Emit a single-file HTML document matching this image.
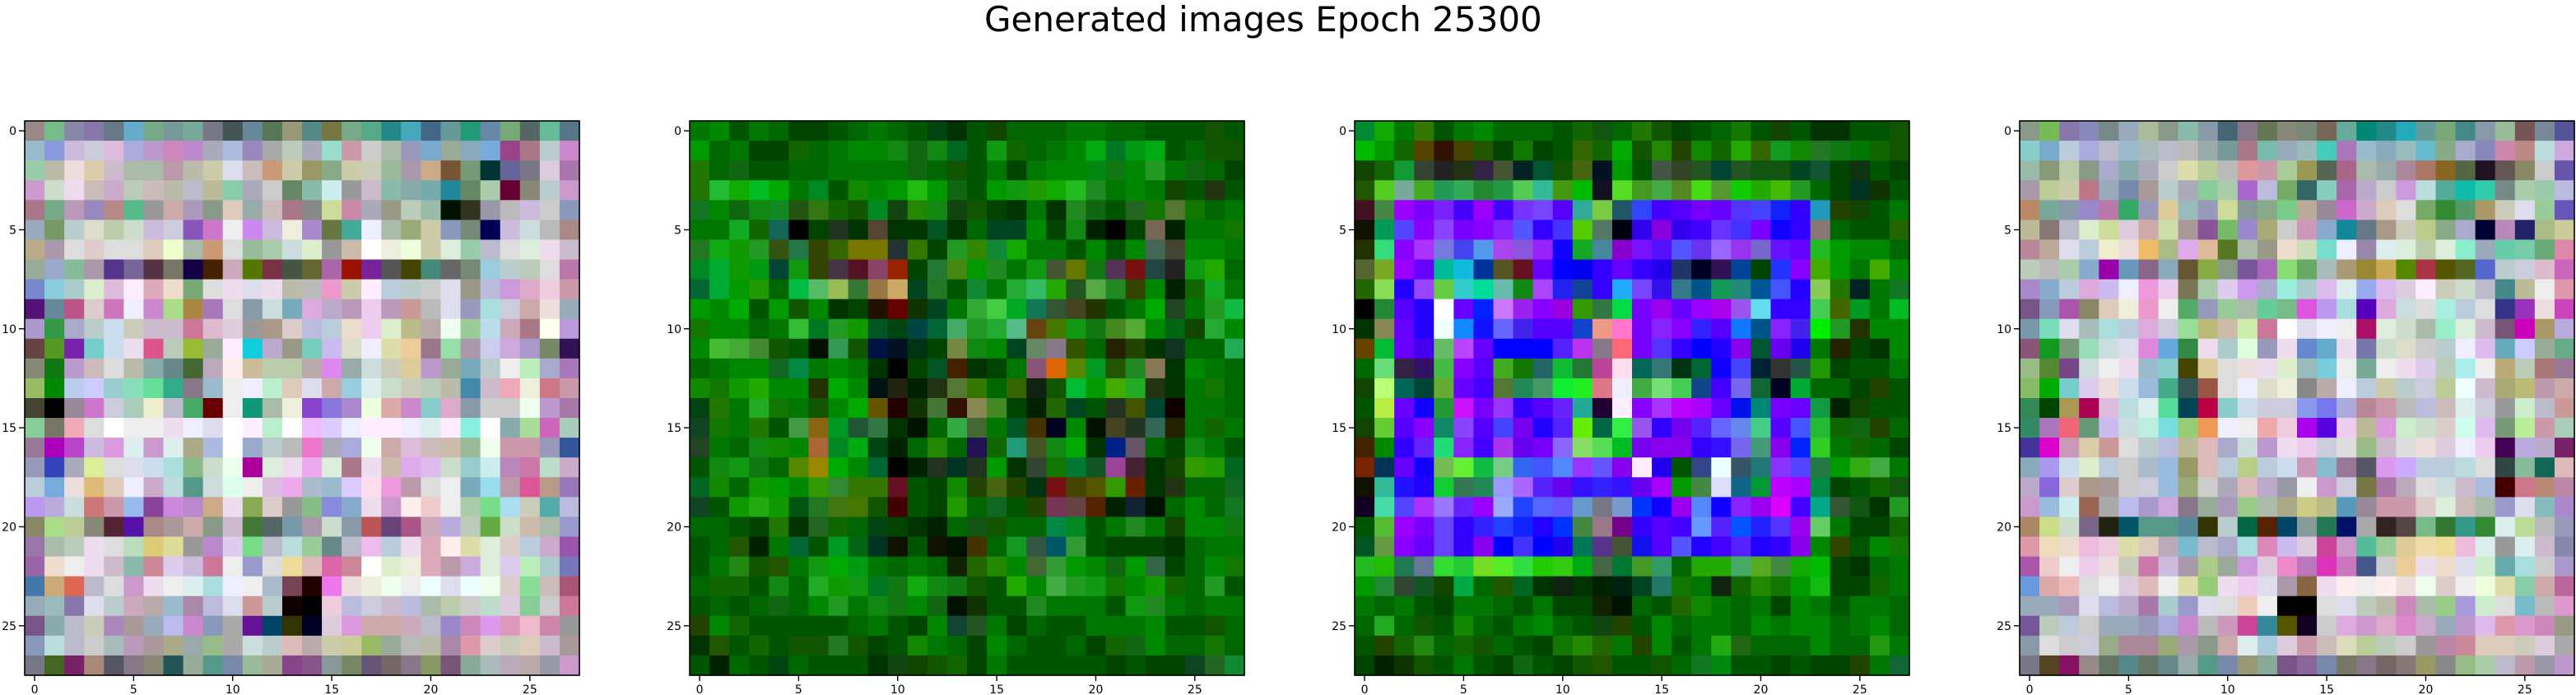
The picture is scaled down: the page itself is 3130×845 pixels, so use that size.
<!DOCTYPE html>
<html><head><meta charset="utf-8"><style>
html,body{margin:0;padding:0;background:#fff;width:3130px;height:845px;overflow:hidden}
svg text{font-family:"DejaVu Sans","Liberation Sans",sans-serif}
</style></head><body>
<svg id="fig" width="3130" height="845" viewBox="0 0 3130 845" xmlns="http://www.w3.org/2000/svg">
<text x="1196" y="38" font-size="42" fill="#000">Generated images Epoch 25300</text>
</svg>
<script>
const ticks=[0,5,10,15,20,25];
const tickLabels=["0","5","10","15","20","25"];
const panelNames=["image-1","image-2","image-3","image-4"];
const img1=[
"988 7b8 88a 87a 678 6ac 7a8 799 7a9 778 455 689 575 997 588 774 7a8 5a8 288 4ab 468 699 297 68a 7a7 566 6b9 578",
"9bc 89d cbd ccd dbd aad b9c c8b b8c aab abd 98b aaa bcb aab 9dc c9a ccc aba 99b 7ac 9a9 8ab 7ad 948 a78 bcc c8c",
"9ca bba edd dca cbc aba aba b9a bba cca dde cbb c97 cca 996 8a8 cca ccb 9b9 a9a ca8 753 797 033 669 778 dcd a7a",
"c9c cdc ede cbb cac bcb cbb bba bbc bb9 8ca aab ccc 686 8ba cee 999 cbc 8ba 8aa 7aa 289 686 aca 603 887 bcc c9c",
"a78 7a8 b9b 98b b88 5b8 999 caa a9b 898 dcb 9aa cbb a78 888 cd9 c8a aab 998 bcb 9ba 010 332 99a bbb cbd ccc 89b",
"9ab 796 bcc ddc bca cdc cbd ccd 85b c7c eee c8e cbd eed a8c 674 4a9 eef aba 9a7 cca 89b 787 005 cbd cdd bbb a88",
"ba8 a9a ddd dcc ddd ddd dcb efc aba c97 ddd 9b9 aca cdd dec 999 cba fff eed efd cca ded 9ca bbc ddd ded ede cbc",
"9a9 9ac 8b9 a9a 538 769 534 776 104 420 cab 570 734 454 663 a6a 910 729 555 440 487 666 787 9cd bcc bcb ddd b7a",
"78c 8cd acc dec dbd fef dab edc 7a7 ddd ede dde ede bba bbb e9c cca fef bcd bcc ccc dde 998 bbd c9d dac ecd c9a",
"517 689 b58 dcc c7b eef c8c ad8 a84 a7b ddd 89a cdd 7ab dad bac b9b ece b9b c99 bbb dde 99b add ccd caa edd 9ab",
"a9c 394 aac bcc cde ccb cbc cbc c79 dbc dcd 999 a98 dcc bbd bcd edc ece dec bb8 baa efe 9c9 bde cab a78 ffe b9d",
"644 592 72a 7cc cde ede d58 bcb 9b3 9a9 fef 1cd bac 998 7cb cbe ddc eef dda ec9 978 9da a9a cce cad a9c 786 315",
"887 171 b9c cbb ddd bba 8aa 688 463 bab fee cb9 bca bca baa d8e 9aa cdd ccb dc9 b9c 9a9 7ab bcc eee beb aac a7b",
"9b6 080 bce ccf 9cc 8db 6d9 3a8 878 9bc eee eef bec dcb dde caa 9cd dee cdc ccb bcb bba 48a cbc eab eed c78 c9a",
"443 000 989 c7c ccd acb eec bbc 4a6 600 eee 197 aba eed 84c 87d a8c efd daa c8c 8cc dac 89a ccc ccc efe b9c a7a",
"8c9 776 eab ddd fff eee eee ede eef dde fff fef bec fff ebf dcf eef fef fef eef dee fef 8ed fff 8aa ad9 c6b acb",
"979 a0b b4c cbd d9d dee c9c dee aa8 abd fff 9ac bcc bbb e7c aab aad efe caa dbd cbb cba 9b9 efe c9a c9a 99b 359",
"99b 34b aab de9 ddd dde cde add 8b8 cdc efe a09 ded ede eae ded a78 ede cba dae dbe cdc 9cc cee b8b c7a bdc cac",
"bcd 7ad edd db7 dcb eef cac bdd 598 cdd dfe eee dbd eae abc 9bc dcf fde e9d b9a ddd eee 7ab 9de b9a d59 b98 97b",
"b9e bad cdd c77 c9a 9be 849 c8d b8c ca8 ede 8a5 dcc 999 8b8 88d 8ac ede c9c fee ecc eee aca 7d8 ade ccb 5aa bbd",
"886 ad8 bc9 887 523 51a a88 a99 caa 898 cbc 473 566 79a a9a cdc 89a b55 647 a58 cab bad bcb 6a4 cdc cba aba 99c",
"97a aba bcb ede ddd bdb dc7 dd9 999 b8c dce 7d8 bbc bdd 9c9 688 bbc ebe bcd ede dab fee dda ded dcc bcd cac 95a",
"96a edc eee ede cbc 8ba c89 dce cbd c79 eee 99c ddd ed9 dbb d6a c89 fff dec eed dab b9a cad ded dce beb acc 77b",
"47a ca7 d65 bbc ddd c9c ede eee dee add eef eee abc 745 200 e7e edd eed efe eee eff dde eff efe dcc 8d9 cbb a57",
"9ab 9bb 87a dde bcc cab baa 9bc a8a bbd dde c99 bcc 100 000 ecd bbd ccd cbc bbd aba bca ccc bdc dcd 8c9 ccc c79",
"758 8aa bbc ccb a8b a99 9ab bbe c8c 89b aaa 619 046 330 002 dcd d9d caa caa cab bbc 98c c8b d9e d9b ebc c8a 999",
"89b bdd bbc ccc abb b9b a99 aa8 9aa 9b8 aaa cdd bcc dbb baa cca cc9 9b6 9a9 bbb bba a8a d9a dcc ccb dcb cbc a99",
"778 462 726 a87 556 878 887 255 9a9 598 78a 9b9 aa9 848 858 899 786 657 766 878 896 757 8a9 abb bab baa 99a c9c"];
const img2=[
"070 080 050 070 060 040 040 050 060 070 060 050 041 030 050 140 060 060 060 070 070 060 060 050 050 050 150 050",
"090 060 070 040 040 160 060 070 080 080 181 161 181 062 050 191 160 060 070 080 0a1 072 091 0a1 050 060 150 150",
"270 060 161 050 050 060 060 070 070 070 070 161 060 150 050 070 040 070 080 080 081 171 080 292 070 161 060 040",
"270 2b3 1a0 0b2 0a0 070 082 050 180 080 090 2b1 090 161 050 090 191 290 1a0 2b2 282 070 080 070 140 050 231 050",
"172 080 161 181 182 251 371 160 150 082 141 280 181 141 150 040 030 070 030 282 161 050 262 170 573 170 060 070",
"070 070 1a2 160 165 000 040 232 030 543 030 030 052 030 060 042 042 080 040 181 020 000 040 765 020 070 070 170",
"272 1a1 190 292 351 274 340 360 770 770 233 370 040 292 380 183 1a0 070 070 050 080 050 080 465 443 080 080 070",
"082 0a3 190 091 043 191 340 434 512 846 920 040 273 481 090 282 070 191 453 670 171 535 711 244 222 191 2a0 060",
"063 0a3 090 290 060 0b4 5b6 9b5 373 974 ca6 042 272 050 183 070 2a3 3b6 2a0 252 5a4 282 340 080 020 160 1a2 070",
"090 080 0a0 050 090 150 080 030 040 210 600 130 042 070 3a3 4c4 0a2 175 353 442 230 050 070 0a0 242 070 292 1b4",
"170 080 080 060 070 3b3 072 292 190 052 041 044 063 4a6 292 2a3 5b8 641 470 191 171 482 5a3 080 061 140 2a3 080",
"080 4b3 4a3 483 150 050 010 395 150 014 012 031 040 784 181 080 042 686 878 350 060 220 240 030 132 060 060 2a5",
"060 070 080 080 162 084 070 080 070 030 000 040 052 420 030 040 070 857 d60 580 092 250 282 875 030 080 070 060",
"180 170 190 2a0 080 080 230 0a0 080 011 221 020 231 573 370 060 360 121 150 0b3 090 4a0 2a2 231 030 070 170 060",
"041 270 070 2a2 170 070 150 080 0a0 650 200 130 473 310 885 482 040 020 260 042 050 232 450 043 100 070 070 060",
"142 170 070 270 050 494 861 092 253 374 030 010 060 3a4 463 070 052 430 002 080 010 442 232 365 220 070 160 070",
"242 070 060 181 180 080 a63 082 0a1 041 020 060 280 060 215 160 297 452 181 0a0 030 028 656 060 040 181 070 050",
"050 181 191 171 060 580 980 0a0 080 063 000 020 232 032 232 090 030 343 170 073 152 949 423 030 140 390 290 062",
"062 180 060 190 090 080 390 383 370 370 612 050 040 180 240 461 240 031 711 440 550 390 620 030 231 060 060 162",
"142 050 190 2a1 190 051 272 471 470 150 400 050 040 290 060 162 050 240 735 644 520 020 123 010 060 080 060 172",
"060 060 050 040 270 030 262 160 060 041 040 030 020 060 151 150 060 060 084 082 050 070 282 070 140 080 080 171",
"050 060 250 020 070 063 050 092 061 032 110 050 110 010 430 060 192 354 056 393 050 040 040 040 030 060 070 070",
"050 070 281 150 250 070 191 0a0 091 070 060 070 060 120 260 280 080 463 393 090 080 161 090 364 040 060 080 170",
"060 160 160 050 181 060 2a2 190 191 072 171 1a1 181 171 150 050 2a0 080 4a4 292 191 170 080 190 160 060 292 050",
"050 060 050 060 161 060 080 292 070 181 171 080 161 010 130 050 050 282 070 070 070 050 191 282 070 060 070 070",
"240 080 160 050 050 050 050 050 060 070 050 040 080 143 252 070 040 060 050 050 070 070 070 080 050 050 150 060",
"030 250 050 160 050 150 150 272 150 040 050 180 070 060 040 080 060 050 050 060 040 160 161 080 060 060 170 060",
"050 020 060 050 041 060 050 050 050 030 141 140 150 160 040 070 050 050 050 050 050 040 050 040 040 142 262 183"];
const img3=[
"083 1a0 070 370 050 070 080 060 060 060 050 160 151 060 270 150 040 050 060 170 050 140 050 030 030 050 050 150",
"0b0 090 160 540 310 440 250 040 170 040 050 360 160 0a0 150 280 240 180 160 2a0 360 192 180 272 171 070 160 150",
"140 160 193 343 222 231 324 453 022 053 150 461 012 090 050 454 342 252 043 252 151 151 042 153 040 131 050 040",
"250 5c2 7a9 4a2 295 3a5 283 294 5c5 3b9 491 0b0 112 5d2 492 4a4 582 4d1 593 1c0 2a0 4b0 292 060 040 032 130 050",
"412 484 90f 70f 72f 40f 90f 40f 73f 74f 50f 3a9 7c4 256 34f 40f 50f 70f 60f 53f 44f 12f 30f 29b 240 140 050 070",
"110 095 54f 80f 84f 70f 80f 82f 55f 30f 43f 5c0 576 001 30e 80d 30e 40f 63f 43f 70f 10f 30f 877 060 050 050 260",
"230 3d7 80f a3f 77d 44e 59e a4e 85d 92f 10f 1a2 489 80c 71f 51f 55f 63e 96f 93e 76c 61f 60f 2b2 090 080 080 060",
"563 7a2 90f 60f 0b9 1bd 039 552 612 60f 00f 00e 30f 60f 30f 20e 236 002 315 049 040 23f 80f 4a0 090 070 4a0 080",
"260 8d5 20f 94f 6c4 3cc 0d9 6ba 181 a4f 22e 149 30f 2af 74f 31e 378 058 195 287 059 45f 20f 8c5 270 022 070 172",
"000 283 50f 20f fff 60f 02f c7f 92e 80f 90d 390 374 0d4 70f 90e 60f 90f a0e 95e 6de 30f 30f 4c5 460 092 070 0b2",
"030 885 60f 20f eff 18f 11f 66f 42e 50f 50f 14c e98 f7c 70f 82f 80f 32f 50f 17f 058 82f 42e 0e0 292 230 080 080",
"640 0b3 60f 40e 6b6 b4f 60f 00f 00f 00f 52f b3e 878 f67 70f 53f 30f 00f 20f 80e 053 60e 20e 070 220 040 030 080",
"060 6d7 324 316 4b4 80f 50f 4a2 170 266 1b3 273 b49 fde 065 377 031 063 10f 44f 023 333 254 290 040 050 050 070",
"140 bf7 065 043 6a3 60f 40f 573 285 496 1e3 2e2 d78 eef 4a4 7d7 4c5 148 40f 76e 163 002 0a3 060 060 040 240 050",
"050 be4 60f 10f 293 c1f 70f 93f 30f 50f 62f 2a9 203 fef 80f a3f b0f a0f 60f 01e 087 70f 60f 194 020 140 050 050",
"140 6c3 50f 80f 186 84f 50f 44f 70e 20f 52f 6e0 064 3e4 95e 30f 70e 52f 66f 68e 4c8 50f 45f 2b3 160 161 240 060",
"420 080 30f 62f 2d7 82f 40f a3e 60e 70f 86f 8d6 5d5 0b2 70e 80e 80e 30f 31f 76e 497 80e 02f 3c2 070 160 060 040",
"720 035 60f 10f 7b5 6e3 1b4 7c8 36e 45f 58f 93f 65f 80e fef 20e 050 348 eff 356 277 83f 54f 274 090 3a1 4a4 070",
"110 3b9 21f 20f 1c3 375 285 99f a6f 52f 60e 31f 32f 31f 60e a0f 090 484 ddf 168 093 b0f a0f 084 040 050 160 151",
"102 4da 54f a3f 97f 62f 90f 9af 24f 56f 65f 69c 778 79c 03f 10f 90e 58f 10f 82f 90e d0f 40f 0a8 353 151 030 292",
"050 5b3 90f 70f 64f 30f 32f 24f 12f 20f 03f 484 978 708 30f 50f 40f 69f 52f 05f 22f 53f 90e 6c6 070 040 040 160",
"052 694 80f 60f 64f 30f 80e 00f 43f 00f 20e 075 538 453 11e 50f 55f 20f 40f 52f 20f 30f 80e 080 340 050 080 170",
"2b2 2b0 275 679 3d3 2c3 7d2 5e2 3d4 2c0 3c1 0a1 464 073 492 396 060 2a0 2a0 4a6 5a2 484 1a0 0b0 040 030 060 070",
"090 283 343 152 140 0a4 060 250 062 030 121 030 020 021 042 276 170 070 121 160 280 170 090 1b1 040 040 160 070",
"070 060 070 050 040 070 070 060 050 070 040 040 120 010 060 050 260 180 070 060 070 040 080 070 050 070 070 060",
"060 2a2 060 150 050 180 060 050 070 080 060 050 141 240 050 080 060 070 070 060 080 070 080 080 060 070 080 060",
"050 240 160 281 060 160 150 060 050 040 170 280 260 070 240 080 050 070 2a1 261 060 060 060 080 060 060 291 070",
"040 020 130 150 050 070 050 040 161 050 040 150 250 050 050 150 060 172 081 050 050 040 050 040 040 240 070 163"];
const img4=[
"898 7b5 87a 88b 788 9ab ab9 898 8ba 89a 467 878 675 887 787 765 6a9 087 288 2ab 699 7a7 488 89a 9b9 755 789 559",
"8cc 7ac bcd aad bbc 9bc abb bbc bbb 9aa 799 a78 7ba 9ab 9bb 4cb a7b 9bc 8ab 9bb 6bc 8a8 aac 88b c8a b88 bdd cad",
"9ba 897 bca 898 aac 8aa aab ccc dda bc9 bbb d99 c9a ac9 995 565 a68 aba 9aa a89 a76 862 564 212 655 886 ccc 65a",
"a9a bc9 cca b78 9ab 78a a99 bcc aab 8c9 aca a6c bbd 7a6 366 8cb a6a bac ccc c9d bdd 5a9 1ba 3ca 788 aca 9ca bbd",
"b86 7a9 89a 98c b7a 3a6 99b dc9 9bb 99b cd9 899 8a8 7c8 ba9 989 c6c cac dcb ddd 7a6 383 596 a96 ccb dde 9c9 65b",
"bb9 877 bbc dec cd9 dcd caa cda a99 859 7b6 98c aa7 ccc c9b 8ac 189 678 a98 ccb bc8 8a8 aac 003 b8b 226 ab8 cc9",
"b89 ba9 dde bcd eec edd eb6 ab8 dae db9 572 aba 998 edc cdb 7dc eef 98a dee ded bca ded 8ec 9ab 6ca 7ca 6a7 d8a",
"bcb bbb aca 8ac 90a 69b 868 8ab 653 8a4 898 759 a6b 8d7 6a6 abb a97 983 ca5 580 a34 550 562 56c bcc ccd dbc c6b",
"a8c 8ac bcd dad cbe eef e9d ece 775 aca dce c9e aac 9ed acc dbe dee 9ae dbe dcd fef ccb cdc bbc 488 bb9 eee d9a",
"758 89b a5a 886 dcb eed e9c eee 5a6 99b 9c9 aba 6c9 7b8 d5d b9e add 50b dad cdd ddd aed bcd ddd 338 93b edd c4b",
"79a 7db dde abb add bcd dad ccd 9d9 bb7 cba cea c79 fff dde eef eee a16 ded cdc aba 9ec ded cbc 757 c0b a96 bad",
"857 192 797 9db cdd dde d8d 6ad 384 ede acc dfd 99b ede 68c 6ac ede 77a cdc ddc ccc bcc eef dbe 6ab ccf 9a9 6a8",
"9b8 583 748 cdd eee ede 9bc 8cc 440 dc9 ddd edd ede dec 9bb 7cd eee 7a9 eee ede dce bcb aee eee ba7 bcb a77 979",
"8b6 0a0 7cc dce edd cde 9bd 4a8 355 954 ddd eef ddc eed 888 baa eef bcd cca bcc ccd bc9 eff cbc aa7 bb7 b9a caa",
"385 040 a95 a05 dbd bdd dee 5d9 045 b04 8cc cde ccd ccd 89e 77e aad b89 c9a bbb bbd cbb dee ccd 999 cec bbc c99",
"386 a7b e67 697 cbe cdd bed 7dd 9c7 e95 eef eee eaa ecd a0e 50d ece bb9 d9d cec cdc dcc cfe dbe 797 be9 c9a acb",
"439 d0c c9b dca c99 ddd bcc bbd bb9 dbb aac cdd b9c ede ece ccd ddd 9b8 cbc ddd edd dcd eef ece 405 bad bac 726",
"8ab a9e cde dec bcd ccc abc 9bd 996 dbb bcd bc8 bcd cde c9b 8bc 979 556 d9e caf bcd bcd bdd ddd 344 8b9 165 dbb",
"bac 86d dcc a98 a99 ccc ccd 9bd 9a7 ccc aab dbb bac 99a eee c9c ccd 774 a7a bab ddd cdd cbc abd 400 c78 b87 b8a",
"c9c 9bd cee 965 aaa bbe a9c cad 878 9a9 a9b 9c8 aba aa8 cc8 bb8 59b 989 c9a c9a dcc ded cbb aba 99c dde 8bb a8c",
"a86 cd8 cdc 768 221 056 598 598 589 330 bcc 064 520 046 899 275 016 aaa 322 544 7b8 373 398 383 dee bd9 bbb 99b",
"d9a edb edc ebd ecd dda dcb bab 7bc bbc aac add d8b cbe dcd c49 c9c 5b9 9c9 dc9 eda ed9 ebd dee 999 dee cbc 88a",
"a5a ecc eee ece edd ccb c7a cbd a9a ac8 9a9 c9d dcd e8c b7b d3b c7b 458 ccc ec9 ede edc dde cec 6aa add ccc a9c",
"69d daa ebb ddd eee dcd dbb eee dda 9c7 ede ece dde a9a 864 ede fee eee fee edd efe dcc eee efd dda 8ca caa b69",
"9ab 9ab a9b dde bbd bac a7a acc 99c dde ddd ecb eee 000 000 ddd dde bcb bba c8b aba 9c8 a9d cec ddd 7bc bbb d9c",
"759 bcb bcd ccc 9ab 9ab 99b aad c8c bbb c9b c49 389 550 102 ccc dad c9c dac d8c cac 9ab b9c dbe d9a d9c c8b 998",
"89a ddd ccc ccd 9a8 a89 a89 9a7 a9a 898 caa dee acd dcd c9a cbb ddb bc9 bcb ccc 999 b8a c89 dcb dcb ccb dcd aaa",
"778 542 816 988 676 588 676 688 9aa 598 78a 997 8a9 758 869 78a 776 878 766 877 996 888 9b8 aca bbc b9a 99a b9c"];
const images=[img1,img2,img3,img4];

const NS="http://www.w3.org/2000/svg";
const svg=document.getElementById('fig');
const panelX=[30,838,1646,2454], top0=147, size=674, N=28, cell=size/N;
function mk(t,a){const e=document.createElementNS(NS,t);for(const k in a)e.setAttribute(k,a[k]);return e;}
function xs(i,p){return panelX[p]+(i+0.5)*cell;}
function ys(j){return top0+(j+0.5)*cell;}
images.forEach((img,p)=>{
  const g=mk('g',{});
  
  
  img.forEach((row,j)=>{
    row.split(' ').forEach((c,i)=>{
      const r=mk('rect',{x:(xs(i,p)-cell/2).toFixed(2),y:(ys(j)-cell/2).toFixed(2),width:(cell+0.6).toFixed(2),height:(cell+0.6).toFixed(2),fill:'#'+c});
      
      
      g.appendChild(r);
    });
  });
  const fr=mk('rect',{x:panelX[p],y:top0,width:size,height:size,fill:'none',stroke:'#000','stroke-width':1.6});
  
  
  g.appendChild(fr);
  ticks.forEach((t,k)=>{
    const x=xs(t,p), y=ys(t);
    const tx=mk('line',{x1:x,x2:x,y1:top0+size,y2:top0+size+7,stroke:'#000','stroke-width':1.4});
    
    
    g.appendChild(tx);
    const lx=mk('text',{x:x,y:top0+size+22,'font-size':14,'text-anchor':'middle',fill:'#000'});
    
    
    lx.textContent=tickLabels[k];g.appendChild(lx);
    const ty=mk('line',{x1:panelX[p]-7,x2:panelX[p],y1:y,y2:y,stroke:'#000','stroke-width':1.4});
    
    
    g.appendChild(ty);
    const ly=mk('text',{x:panelX[p]-10,y:y+5,'font-size':14,'text-anchor':'end',fill:'#000'});
    
    
    ly.textContent=tickLabels[k];g.appendChild(ly);
  });
  svg.appendChild(g);
});
</script>
</body></html>
